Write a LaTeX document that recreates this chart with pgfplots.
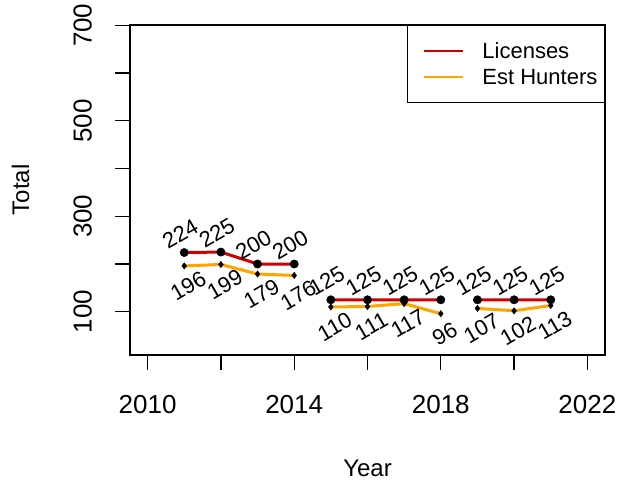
\documentclass[border=0pt]{standalone}
\usepackage{fontspec}
\setmainfont{Liberation Sans}
\usepackage{pgfplots}
\pgfplotsset{compat=1.18}
\newcommand{\rf}{\fontsize{22bp}{26bp}\selectfont}
\newcommand{\tf}{\fontsize{26bp}{30bp}\selectfont}
\newcommand{\lf}{\fontsize{24bp}{28bp}\selectfont}
\definecolor{licred}{HTML}{CD0000}
\definecolor{hunor}{HTML}{FFA500}
\begin{document}
\begin{tikzpicture}
\begin{axis}[
  name=ax,
  scale only axis, width=475bp, height=330bp,
  xmin=2009.52, xmax=2022.48, ymin=9.4, ymax=700.6,
  axis line style={line width=1.3bp},
  tick pos=left, tick align=outside,
  major tick length=15bp,
  every tick/.style={black, line width=1.3bp},
  xtick={2010,2012,...,2022}, xticklabels={2010,,2014,,2018,,2022},
  ytick={100,200,...,700}, yticklabels={100,,300,,500,,700},
  ticklabel style={font=\tf},
  xticklabel style={anchor=north, inner sep=0pt, yshift=-25bp},
  yticklabel style={xshift=-23bp, rotate=90, anchor=south, inner sep=0pt},
  xlabel={Year}, ylabel={Total},
  every axis x label/.style={at={(axis description cs:0.5,-0.3667)}, anchor=base, font=\lf},
  every axis y label/.style={at={(axis description cs:-0.2126,0.5)}, rotate=90, anchor=base, font=\lf},
  unbounded coords=jump, clip=false,
  legend style={at={(rel axis cs:1,1)}, anchor=north east, draw=black, line width=1.3bp,
    font=\rf, inner xsep=7bp, inner ysep=17bp, row sep=9bp, nodes={inner sep=0pt},
    cells={anchor=west}},
  legend image code/.code={\path[draw=none, fill=none] (0bp,-1bp) rectangle (68bp,1bp);
    \draw[#1, line width=2bp] (10bp,0bp) -- (49bp,0bp);},
]
% markers with value labels (drawn first so that lines lie over them)
\addplot[only marks, mark=*, mark size=4.2bp, black, forget plot,
  nodes near coords, point meta=explicit symbolic,
  every node near coord/.append style={font=\rf, inner sep=0pt, anchor=south, yshift=12bp, rotate=30}]
  coordinates {
  (2011,224) [224] (2012,225) [225] (2013,200) [200] (2014,200) [200]
  (2015,125) [125] (2016,125) [125] (2017,125) [125] (2018,125) [125]
  (2019,125) [125] (2020,125) [125] (2021,125) [125]
  };
\addplot[only marks, mark=diamond*, mark size=3.2bp, black, forget plot,
  nodes near coords, point meta=explicit symbolic,
  every node near coord/.append style={font=\rf, inner sep=0pt, anchor=north, yshift=-13bp, rotate=30}]
  coordinates {
  (2011,196) [196] (2012,199) [199] (2013,179) [179] (2014,176) [176]
  (2015,110) [110] (2016,111) [111] (2017,117) [117] (2018,96) [96]
  (2019,107) [107] (2020,102) [102] (2021,113) [113]
  };
\addplot[licred, line width=3bp, no marks]
  coordinates {
  (2011,224) (2012,225) (2013,200) (2014,200) (2014.5,nan)
  (2015,125) (2016,125) (2017,125) (2018,125) (2018.5,nan)
  (2019,125) (2020,125) (2021,125)
  };
\addlegendentry{Licenses}
\addplot[hunor, line width=3bp, no marks]
  coordinates {
  (2011,196) (2012,199) (2013,179) (2014,176) (2014.5,nan)
  (2015,110) (2016,111) (2017,117) (2018,96) (2018.5,nan)
  (2019,107) (2020,102) (2021,113)
  };
\addlegendentry{Est Hunters}
\end{axis}
\pgfresetboundingbox
\path ([shift={(-130bp,-129bp)}]ax.south west) rectangle ([shift={(13bp,25bp)}]ax.north east);
\end{tikzpicture}
\end{document}
